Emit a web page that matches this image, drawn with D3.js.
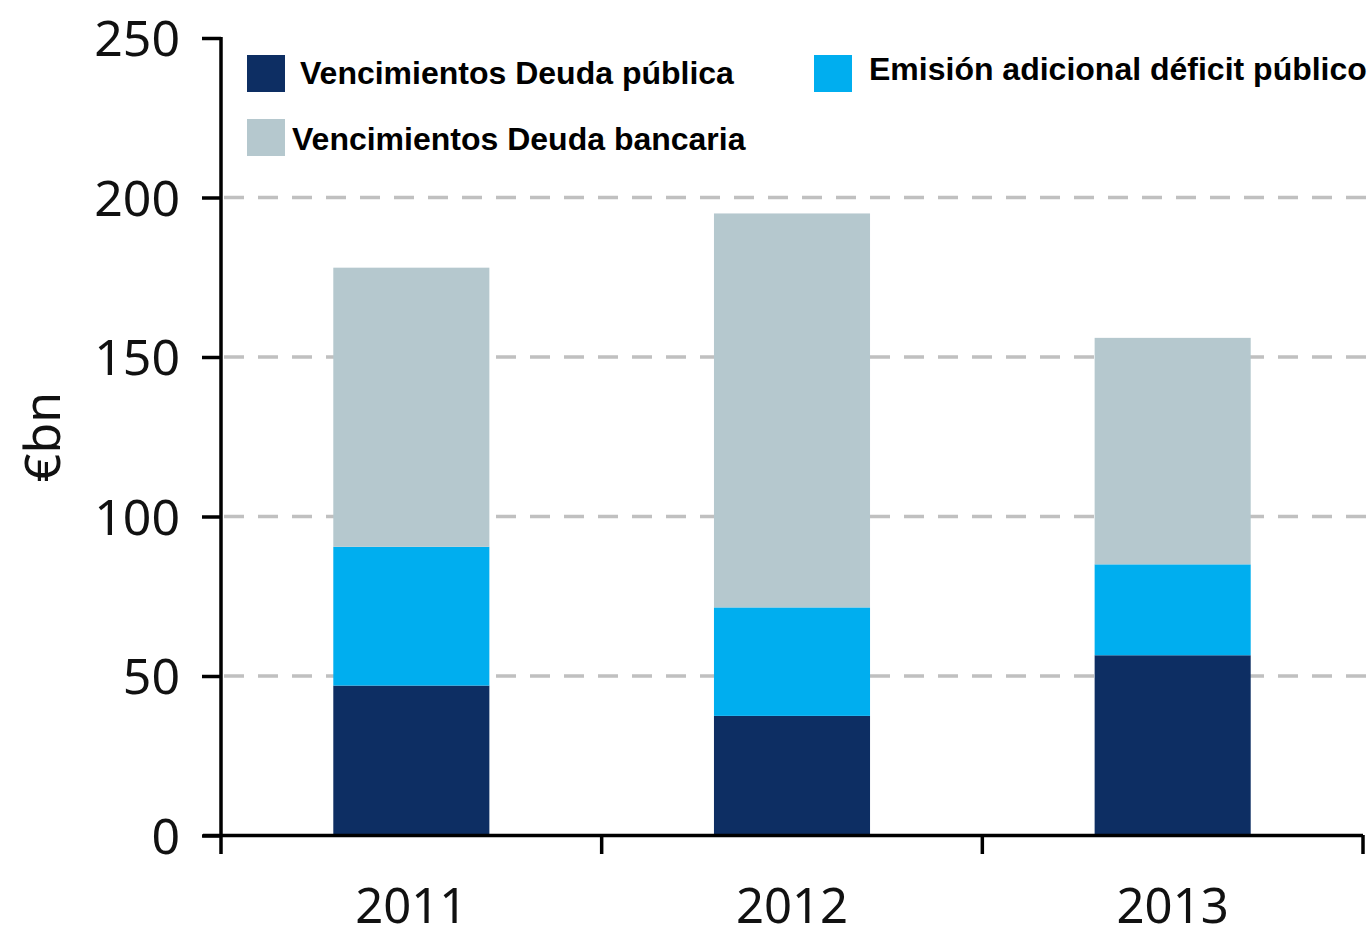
<!DOCTYPE html>
<html lang="es">
<head>
<meta charset="UTF-8">
<title>Vencimientos</title>
<style>
  body { margin: 0; background: #fff; }
  svg { display: block; }
  .tick text { font-family: "Noto Sans", sans-serif; font-size: 50px; fill: #111; }
  .legend text { font-family: "Liberation Sans", Arial, sans-serif; font-weight: bold; font-size: 32px; fill: #000; }
</style>
</head>
<body>
<div id="chart"></div>
<script src="https://cdnjs.cloudflare.com/ajax/libs/d3/7.8.5/d3.min.js"></script>
<script>
// data (values in €bn)
const years = ["2011", "2012", "2013"];
const deudaPublica = [47, 37.5, 56.5];
const emisionDeficit = [43.5, 34, 28.5];
const deudaBancaria = [87.5, 123.5, 71];
const yTicks = [0, 50, 100, 150, 200, 250];
const seriesNames = ["Vencimientos Deuda pública", "Emisión adicional déficit público", "Vencimientos Deuda bancaria"];
const seriesColors = ["#0d2e63", "#00aeef", "#b5c8ce"];

const width = 1372, height = 937;
const svg = d3.select("#chart").append("svg")
  .attr("width", width)
  .attr("height", height);

const x = d3.scaleBand().domain(years).range([221, 1363])
  .paddingInner(0.59).paddingOuter(0.295);
const y = d3.scaleLinear().domain([0, 250]).range([835.5, 38]);

// gridlines
svg.append("g").selectAll("line")
  .data(yTicks.filter(d => d > 0 && d < 250))
  .join("line")
  .attr("x1", 224).attr("x2", 1372)
  .attr("y1", d => y(d)).attr("y2", d => y(d))
  .attr("stroke", "#c0c0c0")
  .attr("stroke-width", 3.5)
  .attr("stroke-dasharray", "20,14");

// stacked bars
const rows = years.map((yr, i) => ({ year: yr, s0: deudaPublica[i], s1: emisionDeficit[i], s2: deudaBancaria[i] }));
const stack = d3.stack().keys(["s0", "s1", "s2"])(rows);

svg.append("g").selectAll("g")
  .data(stack)
  .join("g")
  .attr("fill", (d, i) => seriesColors[i])
  .selectAll("rect")
  .data(d => d)
  .join("rect")
  .attr("x", d => x(d.data.year))
  .attr("width", x.bandwidth())
  .attr("y", d => y(d[1]))
  .attr("height", d => y(d[0]) - y(d[1]));

// y axis
const yAxis = svg.append("g")
  .attr("transform", "translate(221,0)")
  .call(d3.axisLeft(y).tickValues(yTicks).tickSize(19).tickSizeOuter(0).tickPadding(22));
yAxis.select(".domain").remove();
yAxis.selectAll(".tick line").attr("stroke", "#000").attr("stroke-width", 3.5);
yAxis.selectAll(".tick text").attr("dy", "0.35em");

svg.append("line")
  .attr("x1", 221).attr("x2", 221)
  .attr("y1", 37).attr("y2", 854)
  .attr("stroke", "#000").attr("stroke-width", 3.5);

// x axis
svg.append("line")
  .attr("x1", 203).attr("x2", 1363)
  .attr("y1", 835.5).attr("y2", 835.5)
  .attr("stroke", "#000").attr("stroke-width", 3.5);

// ticks between the year bands
const bounds = years.map(yr => x(yr) - (x.step() - x.bandwidth()) / 2);
bounds.push(1363);
svg.append("g").selectAll("line")
  .data(bounds.slice(1))
  .join("line")
  .attr("x1", d => d).attr("x2", d => d)
  .attr("y1", 835).attr("y2", 854)
  .attr("stroke", "#000").attr("stroke-width", 3.5);

svg.append("g").selectAll("text")
  .data(years)
  .join("text")
  .attr("x", d => x(d) + x.bandwidth() / 2)
  .attr("y", 923)
  .attr("text-anchor", "middle")
  .style("font-family", "'Noto Sans', sans-serif")
  .style("font-size", "49px")
  .style("fill", "#111")
  .text(d => d);

// y label
svg.append("text")
  .attr("transform", "translate(60,437) rotate(-90)")
  .attr("text-anchor", "middle")
  .style("font-family", "'Noto Sans', sans-serif")
  .style("font-size", "50px")
  .style("fill", "#111")
  .text("€bn");

// legend
const legendPos = [
  { sx: 247, sy: 55, tx: 300, ty: 84 },
  { sx: 814, sy: 55, tx: 869, ty: 80 },
  { sx: 247, sy: 119, tx: 292, ty: 150 }
];
const legend = svg.append("g").attr("class", "legend");
seriesNames.forEach((name, i) => {
  const p = legendPos[i];
  legend.append("rect")
    .attr("x", p.sx).attr("y", p.sy)
    .attr("width", 38).attr("height", 37)
    .attr("fill", seriesColors[i]);
  legend.append("text")
    .attr("x", p.tx).attr("y", p.ty)
    .text(name);
});
</script>
</body>
</html>
